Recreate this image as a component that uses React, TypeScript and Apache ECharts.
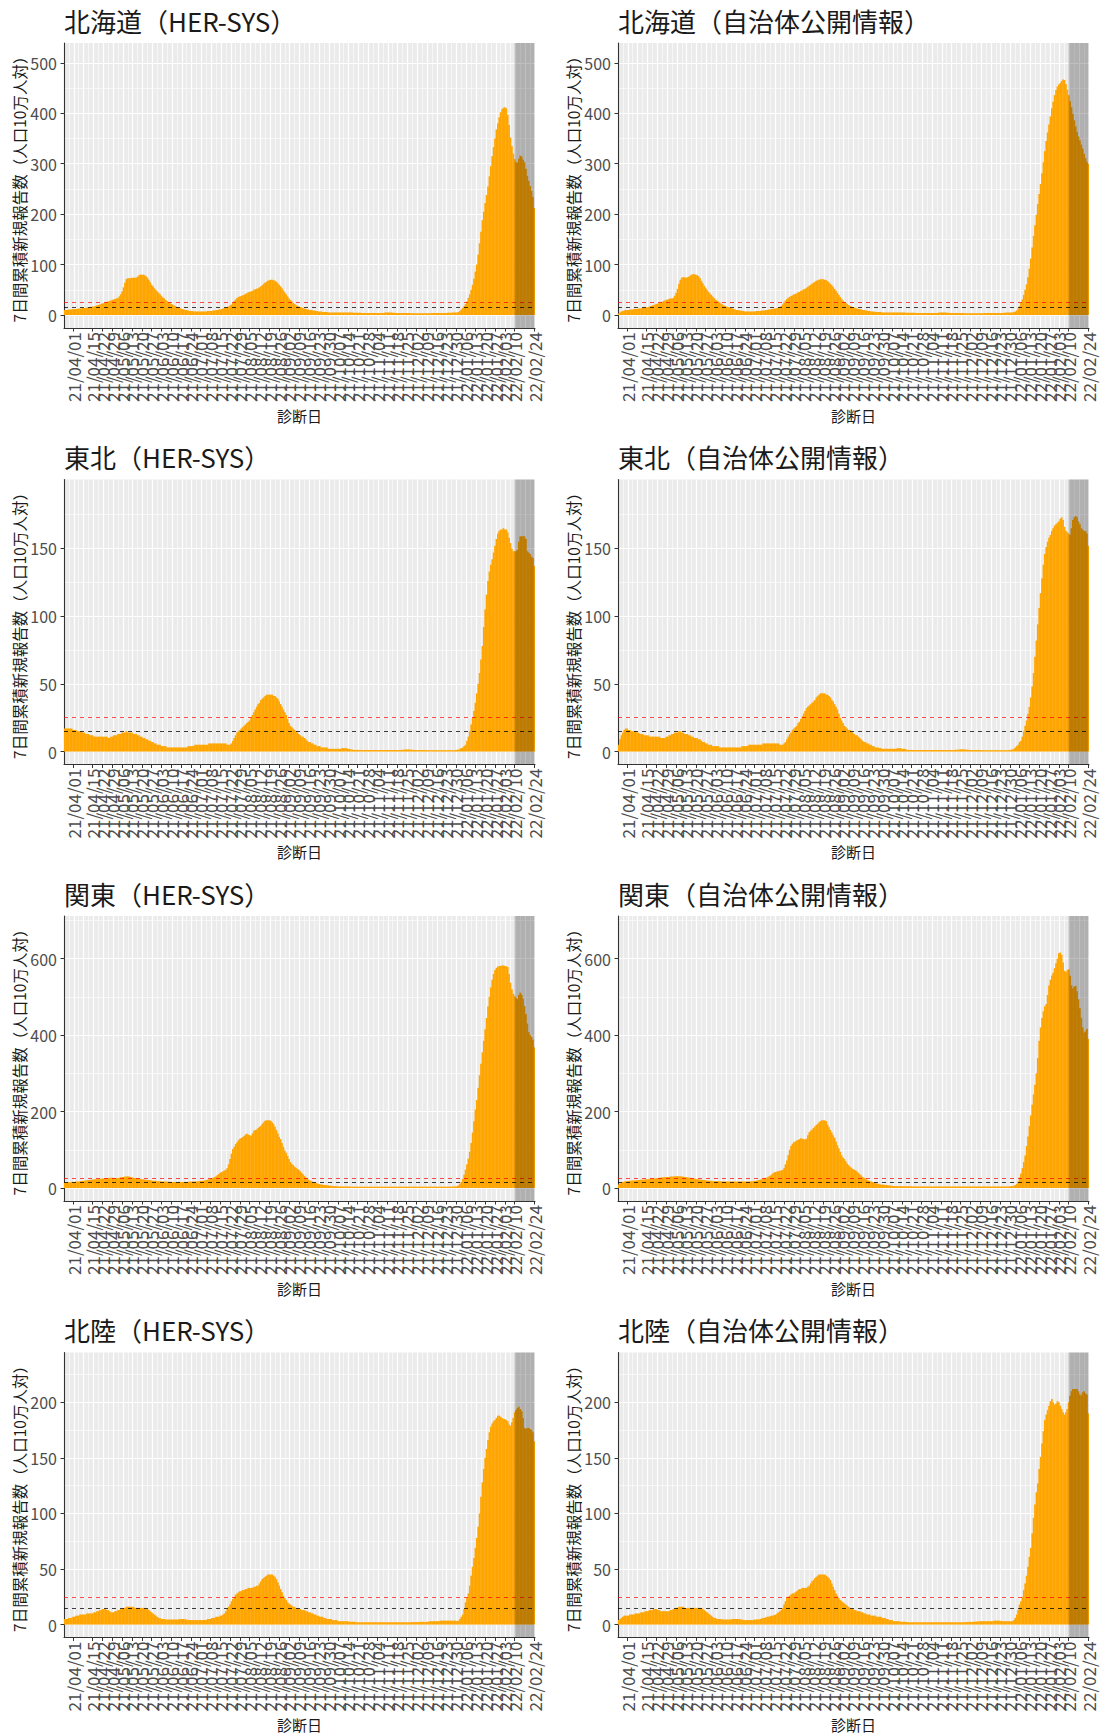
import React, { useEffect, useRef } from "react";
import * as echarts from "echarts";

// ---------- categories (daily, 21/03/26 .. 22/02/24) ----------
const START_UTC = Date.UTC(2021, 2, 26);
const DAY_COUNT = 336;
const pad2 = (n: number) => (n < 10 ? "0" + n : String(n));
const DATES: string[] = [];
for (let i = 0; i < DAY_COUNT; i++) {
  const d = new Date(START_UTC + i * 86400000);
  DATES.push(`${String(d.getUTCFullYear()).slice(2)}/${pad2(d.getUTCMonth() + 1)}/${pad2(d.getUTCDate())}`);
}
const FIRST_LABEL = "21/04/01";
const SHADE_FROM = "22/02/10";
const SHADE_TO = "22/02/24";
const RED_LINE = 25;
const BLACK_LINE = 15;

const Y_TITLE = "7日間累積新規報告数（人口10万人対）";
const X_TITLE = "診断日";

// ---------- series values (7日間累積, 人口10万人対) ----------
const HOKKAIDO_HERSYS = [
  10,10,10,11,11,11,12, 12,12,12,13,13,13,14, 14,14,15,15,16,16,17, 17,18,19,20,21,22,23,
  24,25,26,27,28,29,30, 31,32,33,34,37,41,47, 55,64,71,73,73,73,74, 74,74,74,76,79,80,80,
  80,79,77,74,70,65,60, 57,53,50,47,44,41,38, 35,33,30,28,26,24,22, 21,19,18,16,15,14,13,
  12,11,10,10,9,8,8, 8,7,7,7,7,7,7, 7,7,7,7,8,8,8, 8,9,9,10,10,11,11,
  12,13,14,15,16,17,19, 21,24,28,31,34,36,37, 38,39,40,42,43,45,46, 47,48,50,51,52,53,55,
  57,59,62,64,66,68,69, 70,70,69,68,66,63,60, 57,53,49,45,41,37,33, 30,27,24,22,20,18,17,
  16,15,14,13,12,11,11, 10,10,9,9,8,8,7, 7,7,6,6,6,6,5, 5,5,5,5,5,5,5,
  5,5,5,5,5,5,5, 5,5,5,4.5,4.5,4.5,4.5, 4.5,4.5,4,4,4,4,4, 4,4,4,4,4,4,4,
  4,4,4,4,4.5,5,5, 5,5,5,4.5,4.5,4,4, 4,4,4,4,4,4,4, 4,4,3.5,3.5,3.5,3.5,3.5,
  3.5,3.5,3.5,3.5,3.5,3.5,3.5, 3.5,3.5,3.5,4,4,4,4, 4,4,4,4,4,4,4, 4.5,4.5,4.5,4.5,5,5,5,
  5,6,8,11,14,18,22, 27,34,41,50,60,72,86, 100,120,142,165,188,205,222, 238,255,275,295,315,333,350,
  368,380,392,402,408,411,412, 410,397,377,352,335,320,309, 303,302,310,316,314,308,303, 290,276,266,256,246,234,212,
];
const HOKKAIDO_LOCAL = [
  3,5,7,8,9,10,10, 10,11,11,11,12,12,12, 13,13,13,14,14,15,15, 16,17,18,19,20,21,22,
  23,24,25,26,28,29,30, 31,32,33,33,34,38,44, 52,62,70,74,75,75,74, 75,76,78,80,81,81,80,
  79,77,73,68,63,58,54, 50,46,43,40,37,34,31, 29,27,25,23,21,19,18, 17,16,15,14,13,12,11,
  10,10,9,9,8,8,7, 7,7,7,7,7,7,7, 8,8,8,8,9,9,9, 10,10,11,11,12,12,13,
  13,14,15,16,18,21,25, 29,32,34,36,38,39,41, 42,43,45,46,48,49,51, 52,54,56,58,60,62,64,
  66,68,69,70,71,71,71, 70,69,67,65,62,59,56, 52,48,44,40,36,32,29, 26,24,22,20,18,17,16,
  15,14,13,12,12,11,10, 10,9,9,8,8,7,7, 7,6,6,6,6,6,5, 5,5,5,5,5,5,5,
  5,5,5,5,5,5,5, 5,5,4.5,4.5,4.5,4.5,4.5, 4.5,4.5,4,4,4,4,4, 4,4,4,4,4,4,4,
  4,4,4,4,4.5,5,5, 5,5,5,4.5,4.5,4,4, 4,4,4,4,4,4,4, 4,4,3.5,3.5,3.5,3.5,3.5,
  3.5,3.5,3.5,3.5,3.5,3.5,3.5, 3.5,3.5,4,4,4,4,4, 4,4,4,4,4,4,4, 4,4,4.5,4.5,5,5,5,
  5,5,6,7,9,13,18, 24,31,40,50,61,75,92, 112,134,157,178,199,220,240, 260,281,303,325,345,362,378,
  394,410,423,436,446,453,457, 460,464,467,466,458,447,436, 424,412,399,386,374,363,354, 346,338,330,320,311,304,300,
];
const TOHOKU_HERSYS = [
  17,17,17,17,17,17,16, 16,16,15,15,15,15,14, 14,13,13,13,12,12,12, 11,11,11,11,11,11,11,
  11,11,11,10,10,11,11, 12,12,12,13,13,13,14, 14,14,15,14,14,14,14, 13,13,13,12,12,11,11,
  10,10,9,9,8,8,7, 7,6,6,5,5,5,4, 4,4,4,3,3,3,3, 3,3,3,3,3,3,3,
  3,3,3,3,4,4,4, 4,4,5,5,5,5,5, 5,5,5,5,5,6,6, 6,6,6,6,6,6,6,
  6,6,6,6,5,5,5, 6,8,10,12,14,15,16, 17,18,19,20,21,22,23, 25,27,29,31,33,35,36,
  38,39,40,41,42,42,42, 42,42,41,41,40,39,37, 35,33,31,29,27,24,21, 19,18,17,16,15,14,13,
  12,11,11,10,9,8,7, 7,6,6,5,5,4,4, 4,3,3,3,3,3,2, 2,2,2,2,2,2,2,
  2,2,2.5,2.5,2.5,2.5,2, 2,1.5,1.5,1.2,1.2,1.2,1.2, 1.2,1.2,1.1,1.1,1.1,1.1,1.1, 1.1,1.1,1.1,1.1,1.1,1.1,1.1,
  1.1,1.1,1.1,1.1,1.1,1.1,1.1, 1.1,1.1,1.1,1.1,1.1,1.1,1.1, 1.1,1.1,1.2,1.3,1.4,1.5,1.5, 1.5,1.5,1.4,1.3,1.2,1.2,1.1,
  1.1,1.1,1.1,1.1,1.1,1.1,1.1, 1,1,1,1,1,1,1, 1,1,1,1,1,1,1, 1,1,1,1,1,1,1.2,
  1.3,1.5,2,2.5,3,4,5, 8,11,15,20,25,30,36, 43,50,58,68,78,92,105, 116,126,133,138,142,147,152,
  157,161,163,164,164,165,164, 164,162,158,154,150,148,148, 148,149,155,159,159,159,159, 157,148,147,146,144,143,137,
];
const TOHOKU_LOCAL = [
  5,9,12,14,16,17,17, 16,16,15,15,15,15,14, 14,13,13,13,12,12,12, 12,11,11,11,11,11,11,
  11,11,10,10,10,10,11, 11,12,12,13,13,14,14, 14,15,15,14,14,13,13, 13,12,12,11,11,10,10,
  10,9,9,8,7,7,6, 6,5,5,5,4,4,4, 4,4,3,3,3,3,3, 3,3,3,3,3,3,3,
  3,3,3,3,4,4,4, 4,4,5,5,5,5,5, 5,5,5,5,5,6,6, 6,6,6,6,6,6,6,
  6,6,6,5,5,5,6, 7,9,11,13,14,16,17, 18,19,21,22,24,26,28, 30,32,33,34,35,36,37,
  38,40,41,42,43,43,43, 43,42,42,41,40,38,37, 35,33,31,28,25,23,21, 19,18,17,16,16,15,14,
  13,12,12,11,10,9,8, 7,7,6,6,5,5,4, 4,3,3,3,2.5,2.5,2, 2,2,2,2,2,2,2,
  2,2,2,2.5,2.5,2.5,2, 2,2,1.5,1.2,1.2,1.2,1.2, 1.1,1.1,1.1,1.1,1.1,1.1,1.1, 1.1,1.1,1.1,1.1,1.1,1.1,1.1,
  1.1,1.1,1.1,1.1,1.1,1.1,1.1, 1.1,1.1,1.1,1.1,1.1,1.1,1.1, 1.1,1.1,1.2,1.3,1.4,1.5,1.6, 1.6,1.6,1.5,1.4,1.3,1.2,1.1,
  1.1,1.1,1.1,1.1,1.1,1.1,1.1, 1,1,1,1,1,1,1, 1,1,1,1,1,1,1, 1,1,1,1,1,1,1.2,
  1.3,1.6,2,3,4,5,7, 8,11,15,19,23,28,33, 40,48,58,70,82,94,106, 117,128,138,146,151,155,158,
  160,163,165,167,168,169,170, 172,173,171,166,163,162,161, 160,165,171,173,174,173,170, 168,165,164,163,163,161,152,
];
const KANTO_HERSYS = [
  14,14,15,15,15,16,16, 16,17,17,17,18,18,19, 19,20,20,21,21,22,22, 23,23,23,24,24,24,25,
  25,26,26,26,27,27,27, 26,26,26,26,27,28,29, 29,30,30,31,30,29,28, 27,26,26,25,24,24,23,
  23,22,22,21,21,20,20, 19,19,19,18,18,18,17, 17,17,17,17,17,16,16, 16,16,16,16,16,16,16,
  16,16,16,16,16,17,17, 17,17,17,17,18,18,19, 19,19,20,21,22,23,24, 26,27,29,31,34,37,40,
  42,44,46,48,52,62,76, 90,102,108,115,120,125,129, 131,133,136,140,142,140,138, 137,143,150,152,153,157,160,
  163,168,172,176,177,177,177, 176,172,167,160,152,143,134, 128,118,108,98,92,84,76, 68,63,60,56,53,50,48,
  44,40,36,32,28,25,22, 20,18,16,15,14,12,11, 10,9,9,8,8,7,7, 6,6,5,5,5,5,4,
  4,4,4,4,4,4,4, 4,3.5,3.5,3.5,3.5,3.5,3.5, 3.5,3.5,3.5,3.5,3.5,3.5,3.5, 3.5,3.5,3.5,3.5,3.5,3.5,3.5,
  3.5,3.5,3.5,3.5,3.5,3.5,3.5, 3.5,3.5,3.5,3.5,3.5,3.5,3.5, 3.5,3.5,3.5,3.5,3.5,3.5,3.5, 3.5,3.5,3.5,3.5,3.5,3.5,3.5,
  3.5,3.5,3.5,3.5,3.5,3.5,3.5, 3.5,3.5,3.5,3.5,3.5,3.5,3.5, 3.5,3.5,3.5,3.5,3.5,3.5,3.5, 3.5,3.5,3.5,3.5,4,4,4,
  5,7,11,16,24,35,48, 62,77,95,118,145,175,205, 230,262,295,325,355,385,415, 445,475,500,525,545,560,570,
  576,579,581,581,582,582,581, 580,578,560,537,520,508,502, 497,494,505,511,505,495,476, 455,430,408,400,395,388,368,
];
const KANTO_LOCAL = [
  9,12,15,16,17,18,18, 19,19,19,20,20,20,21, 21,21,22,22,22,23,23, 23,24,24,24,25,25,26,
  26,27,27,28,28,29,29, 29,29,30,30,30,31,31, 31,31,31,30,30,29,29, 28,27,27,26,25,25,24,
  23,23,22,22,21,21,20, 20,19,19,19,18,18,18, 18,18,18,18,17,17,17, 17,17,17,17,17,17,17,
  17,17,17,17,17,17,17, 17,17,17,17,18,18,19, 19,20,21,22,23,24,25, 26,28,30,32,35,38,41,
  42,43,44,45,46,47,52, 62,72,86,100,110,116,120, 122,124,126,128,130,129,128, 127,129,138,146,150,153,157,
  161,165,168,172,175,177,177, 177,175,166,159,152,145,138, 132,122,112,104,95,86,80, 76,70,64,60,56,53,50,
  48,46,43,40,36,33,29, 27,25,22,20,18,17,16, 15,14,12,11,10,9,9, 9,8,8,7,7,6,6,
  5,5,5,5,5,5,5, 4.5,4.5,4.5,4.5,4.5,4.5,4.5, 4,4,4,4,4,4,4, 4,4,4,4,4,4,4,
  4,4,4,4,4,4,4, 4,4,4,4,4,4,4, 4,4,4,4,4,4,4, 4,4,4,4,4,4,4,
  4,4,4,4,4,4,4, 4,4,4,4,4,4,4, 4,4,4,4,4,4,4, 4,4,4,4,4,4,4.5,
  5,5,6,8,11,17,28, 38,52,68,85,110,135,162, 190,218,245,270,300,340,385, 420,445,462,475,481,505,530,
  545,556,563,575,588,600,614, 616,610,590,568,565,570,572, 555,530,522,527,529,515,494, 470,445,420,407,410,416,390,
];
const HOKURIKU_HERSYS = [
  5,5,5,6,6,6,7, 7,8,8,8,9,9,9, 9,9,10,10,10,10,10, 11,11,12,12,13,13,14,
  14,14,13,13,12,11,11, 11,12,12,13,13,14,14, 15,15,16,16,16,16,16, 16,15,15,15,15,15,15,
  15,15,14,14,13,12,11, 10,9,8,7,6,6,5, 5,5,4.5,4.5,4.5,4.5,4.5, 4.5,4.5,4.5,4.5,4.5,5,5,
  5,5,4.5,4.5,4,4,4, 4,4,4,4,4,4,4, 4,4,4,4,5,5,5, 6,6,6,7,7,7,8,
  8,9,10,12,14,16,18, 21,23,25,27,28,29,30, 30,31,31,32,32,33,33, 33,33,34,34,35,35,37,
  39,41,42,43,44,45,45, 45,45,44,43,41,38,35, 32,29,26,24,22,20,19, 18,17,16,16,15,15,14,
  14,13,13,13,12,12,11, 11,10,10,9,9,8,8, 7,7,7,6,6,5,5, 5,5,4,4,4,4,3,
  3,3,3,3,3,3,3, 2.5,2.5,2.5,2.5,2.5,2,2, 2,2,2,2,2,2,2, 2,2,2,2,2,2,2,
  2,2,2,2,2,2,2, 2,2,2,2,2,2,2, 2,2,2,2,2,2,2, 2,2,2,2.2,2.2,2.2,2.2,
  2.2,2.2,2.4,2.4,2.4,2.4,2.4, 2.5,2.8,3,3,3,3,3, 3,3,3.5,3.5,3.5,3.5,3.5, 3.5,3.5,3.5,3.5,3.5,3.5,3.5,
  3,3.5,5,7,9,14,20, 24,28,35,44,52,60,69, 78,88,100,115,128,140,150, 158,166,173,178,181,183,184,
  186,188,188,187,186,185,185, 184,183,180,179,182,186,191, 193,195,196,194,192,186,177, 176,177,177,176,175,173,165,
];
const HOKURIKU_LOCAL = [
  4,5,6,7,8,8,8, 8,9,9,9,9,10,10, 10,10,11,11,11,12,12, 12,13,13,13,14,14,14,
  13,13,12,12,12,12,12, 12,12,13,13,14,14,15, 15,16,16,16,16,15,15, 15,15,15,15,15,15,15,
  15,15,15,15,14,13,12, 11,10,9,8,7,6,6, 5,5,5,5,4.5,4.5,4.5, 4.5,4.5,4.5,4.5,5,5,5,
  5,5,5,4.5,4.5,4,4, 4,4,4,4,4,4,4.5, 4.5,4.5,4.5,5,5.5,6,6, 6.5,7,7,7.5,8,8,8.5,
  9,10,11,12,13,15,18, 21,24,25,26,27,28,28, 29,30,31,32,32,33,33, 33,33,34,35,37,39,40,
  42,43,44,45,45,45,45, 45,44,43,42,40,37,34, 31,28,26,24,22,21,20, 19,18,17,16,15,14,14,
  13,13,12,12,12,11,11, 10,10,9,9,9,8,8, 8,8,7,7,7,7,6, 6,6,5,5,4,4,4,
  3,3,3,3,3,2.5,2.5, 2.5,2.5,2.2,2.2,2,2,2, 2,2,2,2,2,2,2, 2,2,2,2,2,2,2,
  2,2,2,2,2,2,2, 2,2,2,2,2,2,2, 2,2,2,2,2,2,2, 2,2,2,2.2,2.2,2.4,2.4,
  2.4,2.4,2.6,2.6,2.8,2.8,3, 3,3,3,3,3,3,3, 3,3,3.5,3.5,3.5,3.5,3.5, 3.2,3,3,3,3,3,3,
  3,3,4,6,9,13,18, 21,25,31,37,44,52,61, 69,82,96,108,119,127,140, 151,163,174,184,189,193,197,
  201,203,200,198,199,201,200, 197,194,191,189,191,194,200, 206,210,212,212,212,212,210, 207,206,209,210,208,207,190,
];

// ---------- y-axis tick labels ----------
const Y_TICKS_HOKKAIDO = [0, 100, 200, 300, 400, 500];
const Y_MINOR_HOKKAIDO = [50, 150, 250, 350, 450];
const Y_TICKS_TOHOKU = [0, 50, 100, 150];
const Y_MINOR_TOHOKU = [25, 75, 125, 175];
const Y_TICKS_KANTO = [0, 200, 400, 600];
const Y_MINOR_KANTO = [100, 300, 500, 700];
const Y_TICKS_HOKURIKU = [0, 50, 100, 150, 200];
const Y_MINOR_HOKURIKU = [25, 75, 125, 175, 225];

const REGIONS = [
  { name: "北海道", her: HOKKAIDO_HERSYS, local: HOKKAIDO_LOCAL, ticks: Y_TICKS_HOKKAIDO, minor: Y_MINOR_HOKKAIDO },
  { name: "東北", her: TOHOKU_HERSYS, local: TOHOKU_LOCAL, ticks: Y_TICKS_TOHOKU, minor: Y_MINOR_TOHOKU },
  { name: "関東", her: KANTO_HERSYS, local: KANTO_LOCAL, ticks: Y_TICKS_KANTO, minor: Y_MINOR_KANTO },
  { name: "北陸", her: HOKURIKU_HERSYS, local: HOKURIKU_LOCAL, ticks: Y_TICKS_HOKURIKU, minor: Y_MINOR_HOKURIKU },
];
const SOURCES = ["HER-SYS", "自治体公開情報"];

// ---------- layout ----------
const FONT = '"Noto Sans CJK JP", "Noto Sans", sans-serif';
const COL_X = [0, 554];
const ROW_Y = [0, 436.5, 873, 1309.5];
const PLOT_L = 64;
const PLOT_T = 43;
const PLOT_W = 471;
const PLOT_H = 285;

function buildOption() {
  const firstIdx = DATES.indexOf(FIRST_LABEL);
  const isLabelled = (i: number) => i >= firstIdx && (i - firstIdx) % 7 === 0;
  // hidden value axis in "days from first label" units
  const gxMin = -firstIdx - 0.5;
  const gxMax = DAY_COUNT - firstIdx - 0.5;

  const grid: any[] = [];
  const xAxis: any[] = [];
  const yAxis: any[] = [];
  const series: any[] = [];
  const title: any[] = [];
  const graphic: any[] = [];

  REGIONS.forEach((reg, r) => {
    const peak = Math.max(...reg.her, ...reg.local) * 1.1;
    const yMin = -0.05 * peak;
    const yMax = 1.05 * peak;
    [reg.her, reg.local].forEach((values, c) => {
      const k = grid.length;
      const ox = COL_X[c];
      const oy = ROW_Y[r];
      grid.push({
        left: ox + PLOT_L,
        top: oy + PLOT_T,
        width: PLOT_W,
        height: PLOT_H,
        show: true,
        backgroundColor: "#EBEBEB",
        borderWidth: 0,
        containLabel: false,
        outerBoundsMode: "none",
      });
      // main category axis
      xAxis.push({
        type: "category",
        gridIndex: k,
        data: DATES,
        boundaryGap: true,
        position: "bottom",
        axisLine: { show: true, onZero: false, lineStyle: { color: "#333333", width: 1.1 } },
        axisTick: {
          show: true,
          alignWithLabel: true,
          interval: (i: number) => isLabelled(i),
          length: 3.5,
          lineStyle: { color: "#333333", width: 1 },
        },
        axisLabel: {
          show: true,
          interval: (i: number) => isLabelled(i),
          showMinLabel: true,
          showMaxLabel: true,
          hideOverlap: false,
          rotate: 90,
          margin: 4,
          fontSize: 17,
          color: "#4D4D4D",
          fontFamily: FONT,
        },
        splitLine: { show: false },
      });
      // hidden value axis for vertical grid lines (weekly major, mid-week minor)
      xAxis.push({
        type: "value",
        gridIndex: k,
        position: "top",
        min: gxMin,
        max: gxMax,
        interval: 7,
        axisLine: { show: false },
        axisTick: { show: false },
        axisLabel: { show: false },
        splitLine: { show: true, lineStyle: { color: "#FFFFFF", width: 1.2 } },
        minorTick: { show: false, splitNumber: 2 },
        minorSplitLine: { show: true, lineStyle: { color: "#FFFFFF", width: 0.6 } },
      });
      yAxis.push({
        type: "value",
        gridIndex: k,
        position: "left",
        min: yMin,
        max: yMax,
        axisLine: { show: true, onZero: false, lineStyle: { color: "#333333", width: 1.1 } },
        axisTick: { show: true, customValues: reg.ticks, length: 3.5, lineStyle: { color: "#333333" } },
        axisLabel: {
          show: true,
          customValues: reg.ticks,
          showMinLabel: true,
          showMaxLabel: true,
          margin: 7,
          fontSize: 16,
          color: "#4D4D4D",
          fontFamily: FONT,
        },
        splitLine: { show: true, lineStyle: { color: "#FFFFFF", width: 1.2 } },
      });
      yAxis.push({
        type: "value",
        gridIndex: k,
        position: "right",
        min: yMin,
        max: yMax,
        axisLine: { show: false },
        axisTick: { show: false, customValues: reg.minor },
        axisLabel: { show: false, customValues: reg.minor },
        splitLine: { show: true, lineStyle: { color: "#FFFFFF", width: 0.6 } },
      });
      series.push({
        type: "bar",
        name: `${reg.name}（${SOURCES[c]}）`,
        xAxisIndex: 2 * k,
        yAxisIndex: 2 * k,
        data: values,
        barWidth: "125%",
        barGap: "-100%",
        itemStyle: { color: "#FFA500" },
        emphasis: { disabled: true },
        silent: true,
        z: 2,
        markLine: {
          silent: true,
          symbol: ["none", "none"],
          z: 5,
          label: { show: false },
          emphasis: { disabled: true },
          data: [
            { yAxis: RED_LINE, lineStyle: { color: "rgba(255,0,0,0.7)", type: [4, 4], width: 1 } },
            { yAxis: BLACK_LINE, lineStyle: { color: "rgba(0,0,0,0.75)", type: [4, 4], width: 1 } },
          ],
        },
        markArea: {
          silent: true,
          z: 6,
          itemStyle: { color: "rgba(0,0,0,0.25)" },
          emphasis: { disabled: true },
          data: [[{ xAxis: SHADE_FROM }, { xAxis: SHADE_TO }]],
        },
      });
      title.push({
        text: `${reg.name}（${SOURCES[c]}）`,
        left: ox + PLOT_L,
        top: oy + 7,
        padding: 0,
        textStyle: { fontSize: 26, fontWeight: "normal", color: "#1A1A1A", fontFamily: FONT },
      });
      graphic.push({
        type: "text",
        x: ox + 19,
        y: oy + PLOT_T + PLOT_H / 2,
        rotation: Math.PI / 2,
        silent: true,
        style: {
          text: Y_TITLE,
          fontSize: 15.5,
          fontFamily: FONT,
          fill: "#1A1A1A",
          align: "center",
          verticalAlign: "middle",
          textAlign: "center",
          textVerticalAlign: "middle",
        },
      });
      graphic.push({
        type: "text",
        x: ox + PLOT_L + PLOT_W / 2,
        y: oy + 415,
        silent: true,
        style: {
          text: X_TITLE,
          fontSize: 15,
          fontFamily: FONT,
          fill: "#1A1A1A",
          align: "center",
          verticalAlign: "middle",
          textAlign: "center",
          textVerticalAlign: "middle",
        },
      });
    });
  });

  return {
    animation: false,
    backgroundColor: "#FFFFFF",
    textStyle: { fontFamily: FONT },
    title,
    grid,
    xAxis,
    yAxis,
    series,
    graphic,
  };
}

export default function App() {
  const ref = useRef<HTMLDivElement>(null);
  useEffect(() => {
    if (!ref.current) return;
    const chart = echarts.init(ref.current, undefined, { renderer: "svg" });
    chart.setOption(buildOption() as any);
    return () => chart.dispose();
  }, []);
  return (
    <div
      ref={ref}
      style={{ position: "absolute", left: 0, top: 0, width: 1100, height: 1735, background: "#fff" }}
    />
  );
}
